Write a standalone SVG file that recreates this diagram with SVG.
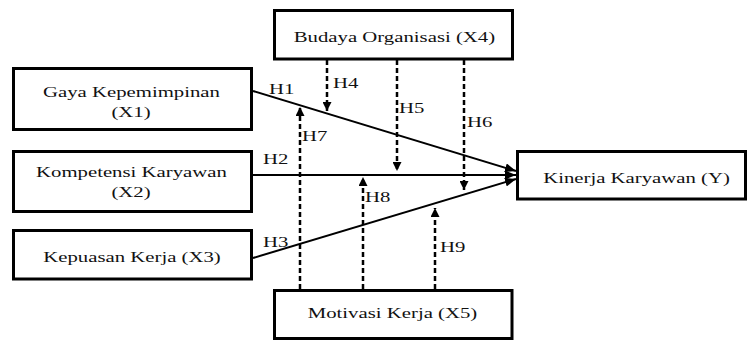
<svg xmlns="http://www.w3.org/2000/svg" width="747" height="340" viewBox="0 0 747 340">
<style>
.box{fill:#fff;stroke:#000;stroke-width:3}
.t{font-family:"Liberation Serif","Times New Roman",serif;font-size:15px;fill:#111}
.c{text-anchor:middle}
.solid{stroke:#000;stroke-width:2;fill:none}
.dash{stroke:#000;stroke-width:2.5;stroke-dasharray:5,3;fill:none}
</style>
<defs>
<marker id="ah" markerUnits="userSpaceOnUse" markerWidth="11" markerHeight="9" refX="11" refY="4.5" orient="auto">
<path d="M0,0 L11,4.5 L0,9 z" fill="#000"/>
</marker>
<marker id="ahd" markerUnits="userSpaceOnUse" markerWidth="9" markerHeight="9" refX="9" refY="4.5" orient="auto">
<path d="M0,0 L9,4.5 L0,9 z" fill="#000"/>
</marker>
</defs>
<rect width="747" height="340" fill="#fff"/>
<g id="connectors">
<line class="solid" x1="253" y1="91" x2="516" y2="171" marker-end="url(#ah)"/>
<line class="solid" x1="253" y1="175" x2="516" y2="175" marker-end="url(#ah)"/>
<line class="solid" x1="253" y1="258" x2="516" y2="179" marker-end="url(#ah)"/>
<line class="dash" x1="327" y1="60" x2="327" y2="111" marker-end="url(#ahd)"/>
<line class="dash" x1="397" y1="60" x2="397" y2="171" marker-end="url(#ahd)"/>
<line class="dash" x1="464" y1="60" x2="464" y2="190" marker-end="url(#ahd)"/>
<line class="dash" x1="300" y1="289" x2="300" y2="107" marker-end="url(#ahd)"/>
<line class="dash" x1="363" y1="289" x2="363" y2="177" marker-end="url(#ahd)"/>
<line class="dash" x1="435" y1="289" x2="435" y2="208" marker-end="url(#ahd)"/>
<g transform="scale(1.385,1)">
<text class="t" x="194.2" y="94">H1</text>
<text class="t" x="189.9" y="164">H2</text>
<text class="t" x="189.9" y="247">H3</text>
<text class="t" x="240.4" y="88">H4</text>
<text class="t" x="288.1" y="113">H5</text>
<text class="t" x="337.2" y="127">H6</text>
<text class="t" x="218.1" y="141">H7</text>
<text class="t" x="263.5" y="202">H8</text>
<text class="t" x="317.7" y="252">H9</text>
</g>
</g>
<g id="x4">
<rect class="box" x="274.5" y="10.5" width="238" height="48.5"/>
<text class="t c" transform="scale(1.385,1)" x="284.8" y="42">Budaya Organisasi (X4)</text>
</g>
<g id="x1">
<rect class="box" x="13.5" y="68.5" width="238" height="61"/>
<text class="t c" transform="scale(1.385,1)" x="94.9" y="97">Gaya Kepemimpinan</text>
<text class="t c" transform="scale(1.385,1)" x="94.6" y="117">(X1)</text>
</g>
<g id="x2">
<rect class="box" x="13.5" y="151.5" width="238" height="60"/>
<text class="t c" transform="scale(1.385,1)" x="94.9" y="177">Kompetensi Karyawan</text>
<text class="t c" transform="scale(1.385,1)" x="94.6" y="197">(X2)</text>
</g>
<g id="x3">
<rect class="box" x="13.5" y="230.5" width="238" height="48.5"/>
<text class="t c" transform="scale(1.385,1)" x="95.3" y="262">Kepuasan Kerja (X3)</text>
</g>
<g id="y">
<rect class="box" x="517.5" y="151.5" width="228" height="47.5"/>
<text class="t c" transform="scale(1.385,1)" x="459.6" y="183">Kinerja Karyawan (Y)</text>
</g>
<g id="x5">
<rect class="box" x="274.5" y="290.5" width="237.5" height="48"/>
<text class="t c" transform="scale(1.385,1)" x="283.4" y="318">Motivasi Kerja (X5)</text>
</g>
</svg>
